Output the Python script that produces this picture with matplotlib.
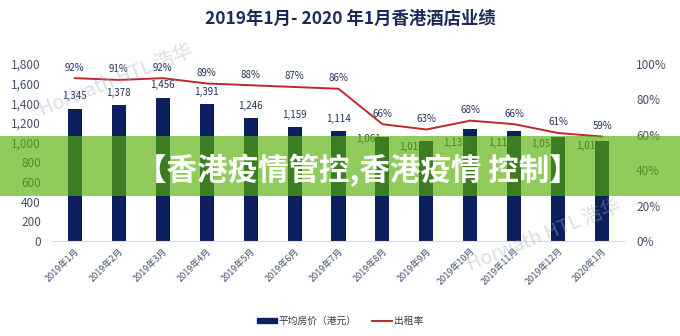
import numpy as np
import matplotlib
matplotlib.use("Agg")
from matplotlib import pyplot as plt
from matplotlib.patches import Rectangle
from matplotlib.lines import Line2D
from matplotlib.ticker import FuncFormatter

plt.rcParams['font.family'] = ['Noto Sans CJK SC', 'DejaVu Sans']

months = ["2019年1月", "2019年2月", "2019年3月", "2019年4月", "2019年5月", "2019年6月",
          "2019年7月", "2019年8月", "2019年9月", "2019年10月", "2019年11月", "2019年12月",
          "2020年1月"]
avg_rate = [1345, 1378, 1456, 1391, 1246, 1159, 1114, 1061, 1016, 1134, 1119, 1053, 1012]
occupancy = [92, 91, 92, 89, 88, 87, 86, 66, 63, 68, 66, 61, 59]

# label offsets in points (later labels sit left of the bars, as in the source)
bar_label_offsets = [(0, 9)] * 7 + [(-10, -1.5), (-11, -4.5), (-11, -10), (-10, -8.5),
                                    (-11, -4.5), (-10, -3.5)]

navy = "#0c1f5e"
red = "#c0272d"
label_c = "#22305c"
tick_c = "#44506e"

fig = plt.figure(figsize=(6.8, 3.36), dpi=100)
ax = fig.add_axes([52 / 680, 1 - 241 / 336, 573 / 680, 177 / 336])
ax2 = ax.twinx()

x = np.arange(len(months))
ax.bar(x, avg_rate, width=0.32, color=navy, zorder=2)
ax2.plot(x, occupancy, color=red, lw=1.4, zorder=3)

ax.set_xlim(-0.52, len(months) - 0.48)
ax.set_ylim(0, 1800)
ax2.set_ylim(0, 100)
ax.set_yticks(range(0, 1801, 200))
ax2.set_yticks(range(0, 101, 20))
ax.yaxis.set_major_formatter(FuncFormatter(lambda v, p: f"{int(v):,}"))
ax2.yaxis.set_major_formatter(FuncFormatter(lambda v, p: f"{int(v)}%"))

ax.set_xticks(x)
ax.set_xticklabels(months, rotation=45, ha="right", rotation_mode="anchor",
                   fontsize=6.5, color=tick_c)
ax.tick_params(axis="x", length=0, pad=4)
ax.tick_params(axis="y", length=0, labelsize=8.5, labelcolor=tick_c, pad=8)
ax2.tick_params(axis="y", length=0, labelsize=8.5, labelcolor=tick_c, pad=8)

for a in (ax, ax2):
    for s in a.spines.values():
        s.set_visible(False)
ax.spines["bottom"].set_visible(True)
ax.spines["bottom"].set_color("#d8dce6")

for xi, v, off in zip(x, avg_rate, bar_label_offsets):
    ax.annotate(f"{v:,}", (xi, v), xytext=off, textcoords="offset points",
                ha="center", va="center", fontsize=7, color=label_c, zorder=4)
for xi, v in zip(x, occupancy):
    ax2.annotate(f"{v}%", (xi, v), xytext=(0, 4), textcoords="offset points",
                 ha="center", va="bottom", fontsize=7, color=label_c)

# watermarks
for wx, wy in [(0.17, 0.76), (0.80, 0.30)]:
    fig.text(wx, wy, "Horwath HTL 浩华", fontsize=14, color="#a3abbd", alpha=0.4,
             rotation=22, ha="center", va="center")

fig.text(0.515, 0.945, "2019年1月- 2020 年1月香港酒店业绩", ha="center", va="center",
         fontsize=12.5, fontweight="bold", color="#1b2a5a")

# legend
handles = [Rectangle((0, 0), 1, 1, color=navy), Line2D([0], [0], color=red, lw=1.4)]
fig.legend(handles, ["平均房价（港元）", "出租率"], loc="center", bbox_to_anchor=(0.5, 0.045),
           ncol=2, frameon=False, fontsize=7, handlelength=2.0, handleheight=0.5,
           columnspacing=1.6, handletextpad=0.2, labelcolor="#333a4a")

# green banner overlay
fig.patches.append(Rectangle((0, 1 - 196 / 336), 1, 60 / 336, transform=fig.transFigure,
                             facecolor="#56b005", alpha=0.65, edgecolor="none", zorder=10))
fig.text(0.527, 1 - 171 / 336, "【香港疫情管控,香港疫情 控制】", ha="center", va="center",
         fontsize=22, fontweight="bold", color="white", zorder=11)

fig.savefig("out.png", dpi=100)
